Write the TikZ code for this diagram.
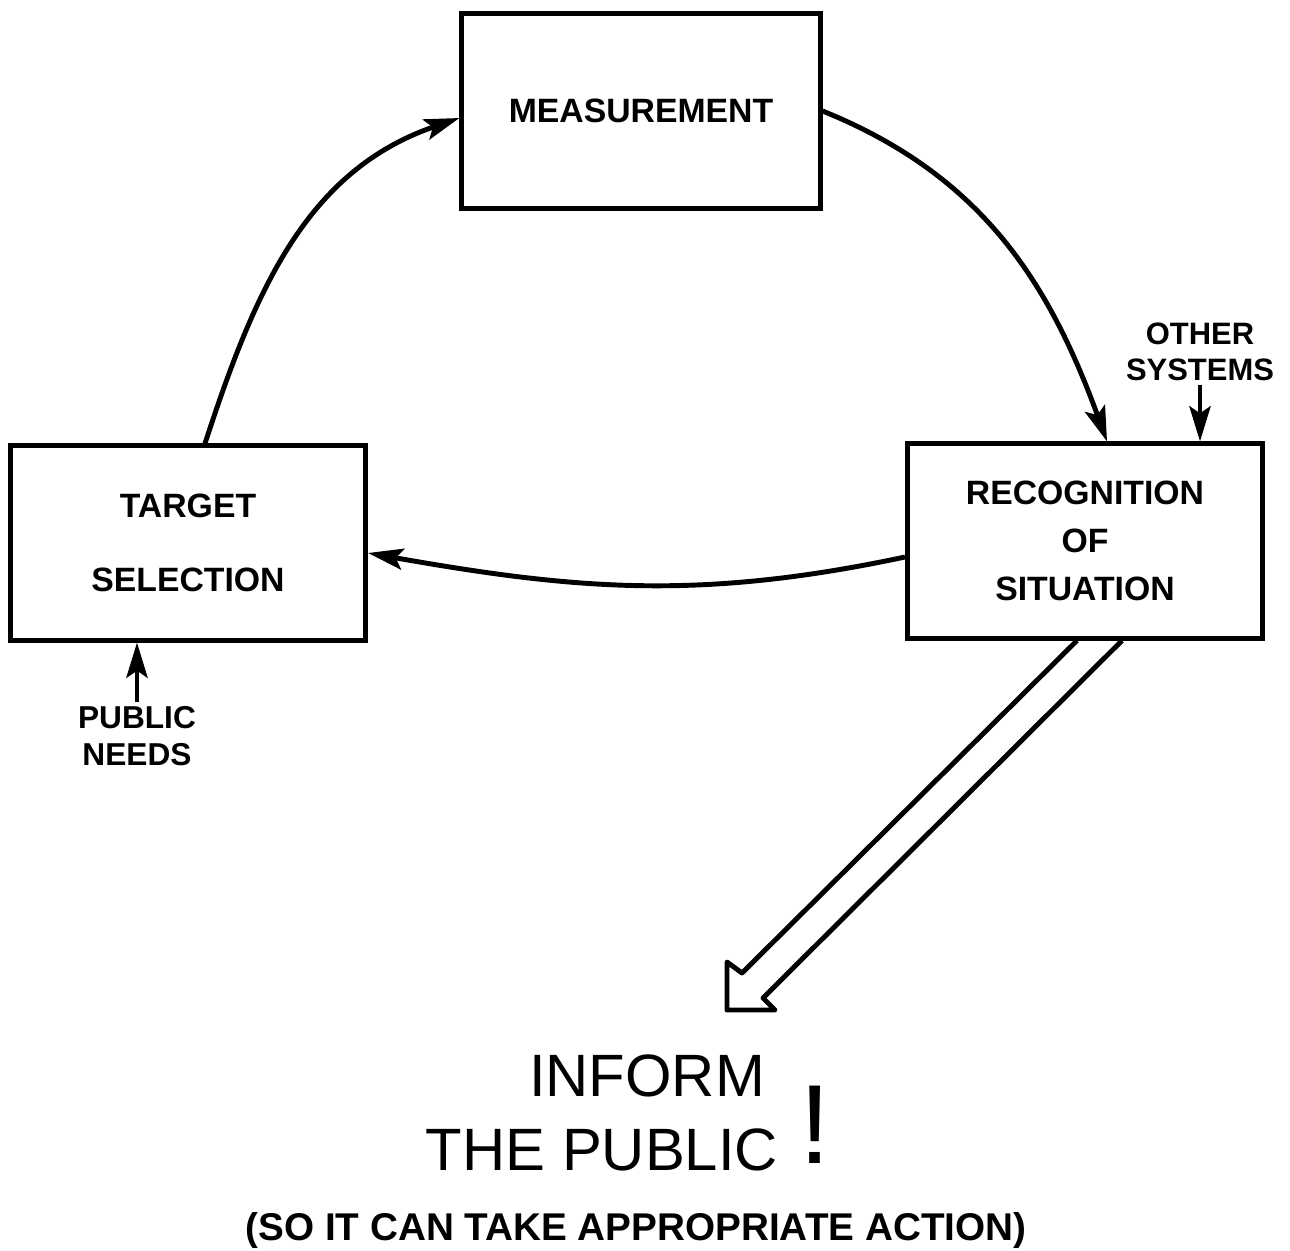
\documentclass[tikz,border=0pt]{standalone}
\usepackage{fontspec}
\setmainfont{Liberation Sans}
\usetikzlibrary{arrows.meta, positioning}

\begin{document}
\begin{tikzpicture}[
  x=0.01cm, y=-0.01cm,
  block/.style={rectangle, draw, line width=1.4pt, minimum width=3.55cm,
    minimum height=1.94cm, align=center,
    font=\bfseries\fontsize{9.6}{21}\selectfont},
  edge/.style={-{Stealth[length=10pt, width=6pt, inset=2pt]}, line width=1.4pt},
  note/.style={align=center, inner sep=1pt,
    font=\bfseries\fontsize{9}{10.5}\selectfont},
  big/.style={inner sep=0pt, font=\fontsize{17}{21}\selectfont},
  hollow/.style={line width=1.4pt, line join=round}
]
\useasboundingbox (0,0) rectangle (1290,1251);

\node[block, minimum width=3.58cm] (measure) at (641,111) {MEASUREMENT};
\node[block] (target) at (188,543) {TARGET\\SELECTION};
\node[block, font=\bfseries\fontsize{9.6}{13.6}\selectfont] (recog) at (1085,541)
  {RECOGNITION\\OF\\SITUATION};

\node[note, font=\bfseries\fontsize{8.8}{10.2}\selectfont] (others) at (1200,352)
  {OTHER\\SYSTEMS};
\node[note] (needs) at (137,736) {PUBLIC\\NEEDS};

% cycle
\draw[edge] ([xshift=1.7mm]target.north) to[out=72, in=199] ([yshift=-0.7mm]measure.west);
\draw[edge] (measure.east) to[out=-22, in=110] ([xshift=2.2mm]recog.north);
\draw[edge] ([yshift=-1.6mm]recog.west) to[out=192, in=-10] ([yshift=-1mm]target.east);

% outside inputs
\draw[edge] (others.south) -- (others.south |- recog.north);
\draw[edge] (needs.north) -- (needs.north |- target.south);

% big hollow arrow
\draw[hollow] ([xshift=-0.8mm]recog.south) -- (742,973) -- (727,962) -- (727,1010)
  -- (775,1010) -- (763,998) -- ([xshift=3.7mm]recog.south);

\node[big] (inform) at (647,1076) {INFORM};
\node[big] (public) at (602,1150) {THE PUBLIC};
\node[inner sep=0pt, font=\fontsize{32}{32}\selectfont] (bang) at (815,1125) {!};
\node[inner sep=0pt, font=\bfseries\fontsize{11}{13}\selectfont] (action) at (636,1230)
  {(SO IT CAN TAKE APPROPRIATE ACTION)};
\end{tikzpicture}
\end{document}
